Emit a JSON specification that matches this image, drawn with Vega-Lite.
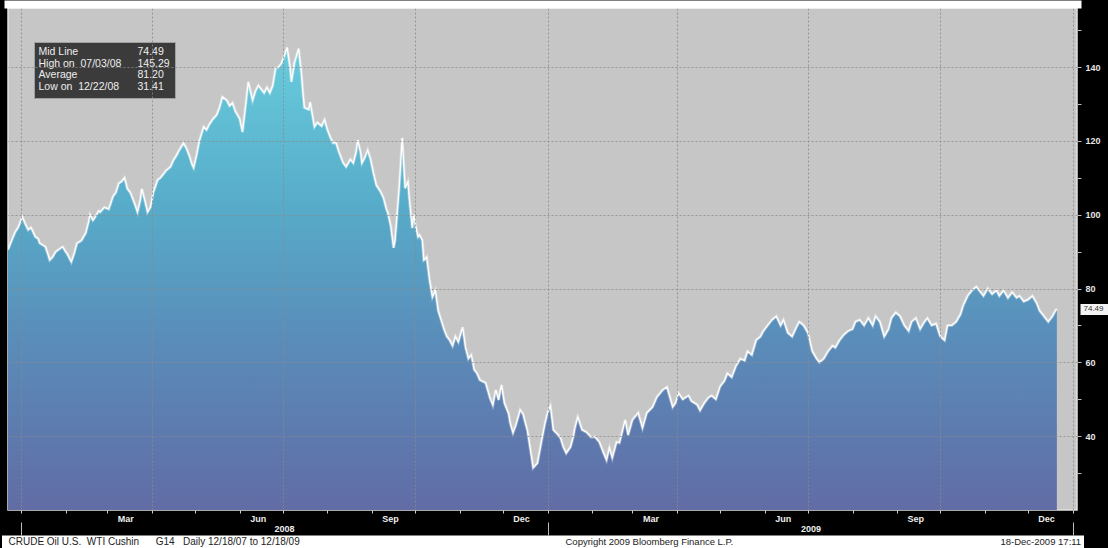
{
  "$schema": "https://vega.github.io/schema/vega-lite/v6.json",
  "width": 1069,
  "height": 502,
  "padding": {"left": 8, "top": 8, "right": 31, "bottom": 38},
  "autosize": {"type": "none"},
  "background": "#000000",
  "view": {"fill": "#c6c6c6", "stroke": "#e2e2e2", "strokeWidth": 1.5},
  "config": {
    "font": "Liberation Sans",
    "axis": {"labelFont": "Liberation Sans", "titleFont": "Liberation Sans"}
  },
  "datasets": {
    "px": [
      {"d": "2007-12-23", "p": 90.5}, {"d": "2007-12-25", "p": 92.5}, {"d": "2007-12-28", "p": 95.3}, {"d": "2007-12-30", "p": 96.5},
      {"d": "2008-01-02", "p": 99.4}, {"d": "2008-01-04", "p": 97.5}, {"d": "2008-01-06", "p": 95.9}, {"d": "2008-01-08", "p": 96.5},
      {"d": "2008-01-11", "p": 94}, {"d": "2008-01-13", "p": 93.5}, {"d": "2008-01-14", "p": 92.3}, {"d": "2008-01-18", "p": 91.3},
      {"d": "2008-01-20", "p": 89}, {"d": "2008-01-21", "p": 87.7}, {"d": "2008-01-23", "p": 88.5}, {"d": "2008-01-25", "p": 89.9},
      {"d": "2008-01-27", "p": 90.5}, {"d": "2008-01-30", "p": 91.3}, {"d": "2008-02-01", "p": 90}, {"d": "2008-02-02", "p": 89.5},
      {"d": "2008-02-05", "p": 87.2}, {"d": "2008-02-07", "p": 89.5}, {"d": "2008-02-09", "p": 92.3}, {"d": "2008-02-12", "p": 93},
      {"d": "2008-02-15", "p": 95}, {"d": "2008-02-17", "p": 98}, {"d": "2008-02-18", "p": 100}, {"d": "2008-02-20", "p": 98.5},
      {"d": "2008-02-21", "p": 99}, {"d": "2008-02-24", "p": 101}, {"d": "2008-02-25", "p": 100.7}, {"d": "2008-02-28", "p": 102},
      {"d": "2008-03-02", "p": 101.5}, {"d": "2008-03-03", "p": 102.6}, {"d": "2008-03-05", "p": 105}, {"d": "2008-03-07", "p": 106},
      {"d": "2008-03-09", "p": 108.5}, {"d": "2008-03-11", "p": 109}, {"d": "2008-03-13", "p": 110}, {"d": "2008-03-15", "p": 107},
      {"d": "2008-03-17", "p": 106}, {"d": "2008-03-20", "p": 103}, {"d": "2008-03-22", "p": 100.7}, {"d": "2008-03-24", "p": 104},
      {"d": "2008-03-25", "p": 107}, {"d": "2008-03-27", "p": 104}, {"d": "2008-03-29", "p": 100.7}, {"d": "2008-03-31", "p": 102},
      {"d": "2008-04-02", "p": 106}, {"d": "2008-04-05", "p": 109.4}, {"d": "2008-04-07", "p": 110}, {"d": "2008-04-09", "p": 111},
      {"d": "2008-04-11", "p": 112}, {"d": "2008-04-14", "p": 113}, {"d": "2008-04-16", "p": 114.8}, {"d": "2008-04-18", "p": 116},
      {"d": "2008-04-20", "p": 117.5}, {"d": "2008-04-23", "p": 119.4}, {"d": "2008-04-25", "p": 118}, {"d": "2008-04-27", "p": 116},
      {"d": "2008-04-29", "p": 113.5}, {"d": "2008-04-30", "p": 112.7}, {"d": "2008-05-02", "p": 116}, {"d": "2008-05-04", "p": 120},
      {"d": "2008-05-07", "p": 123.8}, {"d": "2008-05-09", "p": 123}, {"d": "2008-05-11", "p": 124.5}, {"d": "2008-05-13", "p": 125.7},
      {"d": "2008-05-16", "p": 127}, {"d": "2008-05-18", "p": 129}, {"d": "2008-05-20", "p": 131.9}, {"d": "2008-05-23", "p": 131},
      {"d": "2008-05-25", "p": 129.5}, {"d": "2008-05-27", "p": 130.3}, {"d": "2008-05-29", "p": 128}, {"d": "2008-06-01", "p": 126},
      {"d": "2008-06-03", "p": 122.4}, {"d": "2008-06-05", "p": 129}, {"d": "2008-06-07", "p": 136}, {"d": "2008-06-10", "p": 131},
      {"d": "2008-06-12", "p": 133.5}, {"d": "2008-06-14", "p": 135}, {"d": "2008-06-16", "p": 134}, {"d": "2008-06-18", "p": 133},
      {"d": "2008-06-20", "p": 134.5}, {"d": "2008-06-22", "p": 133}, {"d": "2008-06-24", "p": 135}, {"d": "2008-06-26", "p": 139.7},
      {"d": "2008-06-28", "p": 140}, {"d": "2008-06-30", "p": 141}, {"d": "2008-07-02", "p": 143}, {"d": "2008-07-04", "p": 145.29},
      {"d": "2008-07-06", "p": 140}, {"d": "2008-07-07", "p": 136}, {"d": "2008-07-09", "p": 141}, {"d": "2008-07-12", "p": 145},
      {"d": "2008-07-14", "p": 138}, {"d": "2008-07-15", "p": 133}, {"d": "2008-07-16", "p": 129}, {"d": "2008-07-19", "p": 128.5},
      {"d": "2008-07-20", "p": 130.5}, {"d": "2008-07-22", "p": 126}, {"d": "2008-07-23", "p": 123.8}, {"d": "2008-07-25", "p": 125},
      {"d": "2008-07-28", "p": 124}, {"d": "2008-07-30", "p": 125.7}, {"d": "2008-08-01", "p": 123}, {"d": "2008-08-03", "p": 121},
      {"d": "2008-08-05", "p": 119.4}, {"d": "2008-08-07", "p": 119.5}, {"d": "2008-08-09", "p": 117}, {"d": "2008-08-12", "p": 114},
      {"d": "2008-08-14", "p": 113}, {"d": "2008-08-17", "p": 115}, {"d": "2008-08-19", "p": 114}, {"d": "2008-08-21", "p": 117},
      {"d": "2008-08-22", "p": 120.2}, {"d": "2008-08-24", "p": 117}, {"d": "2008-08-25", "p": 114}, {"d": "2008-08-27", "p": 115.5},
      {"d": "2008-08-29", "p": 117.5}, {"d": "2008-08-31", "p": 115}, {"d": "2008-09-02", "p": 111.3}, {"d": "2008-09-04", "p": 108},
      {"d": "2008-09-07", "p": 106.2}, {"d": "2008-09-09", "p": 104.5}, {"d": "2008-09-11", "p": 101.5}, {"d": "2008-09-12", "p": 100.5},
      {"d": "2008-09-14", "p": 97}, {"d": "2008-09-16", "p": 91}, {"d": "2008-09-17", "p": 93}, {"d": "2008-09-18", "p": 97.8},
      {"d": "2008-09-20", "p": 108}, {"d": "2008-09-22", "p": 120.8}, {"d": "2008-09-24", "p": 107.2}, {"d": "2008-09-26", "p": 108.9},
      {"d": "2008-09-27", "p": 104}, {"d": "2008-09-29", "p": 96.4}, {"d": "2008-09-30", "p": 100}, {"d": "2008-10-01", "p": 97.5},
      {"d": "2008-10-03", "p": 94}, {"d": "2008-10-04", "p": 94.5}, {"d": "2008-10-06", "p": 93}, {"d": "2008-10-07", "p": 87.7},
      {"d": "2008-10-08", "p": 88}, {"d": "2008-10-09", "p": 88.5}, {"d": "2008-10-11", "p": 82.3}, {"d": "2008-10-13", "p": 77.7},
      {"d": "2008-10-15", "p": 79.5}, {"d": "2008-10-17", "p": 74}, {"d": "2008-10-19", "p": 71.5}, {"d": "2008-10-21", "p": 69},
      {"d": "2008-10-23", "p": 67}, {"d": "2008-10-25", "p": 66}, {"d": "2008-10-27", "p": 64.5}, {"d": "2008-10-29", "p": 67},
      {"d": "2008-10-31", "p": 65.5}, {"d": "2008-11-03", "p": 69.5}, {"d": "2008-11-05", "p": 64}, {"d": "2008-11-07", "p": 61},
      {"d": "2008-11-09", "p": 62}, {"d": "2008-11-11", "p": 58}, {"d": "2008-11-13", "p": 57}, {"d": "2008-11-15", "p": 55.2},
      {"d": "2008-11-19", "p": 54.4}, {"d": "2008-11-22", "p": 50.3}, {"d": "2008-11-24", "p": 48.4}, {"d": "2008-11-26", "p": 52.5},
      {"d": "2008-11-28", "p": 49.8}, {"d": "2008-11-30", "p": 53.9}, {"d": "2008-12-02", "p": 49}, {"d": "2008-12-05", "p": 46},
      {"d": "2008-12-06", "p": 43.6}, {"d": "2008-12-08", "p": 40.9}, {"d": "2008-12-10", "p": 43}, {"d": "2008-12-13", "p": 47.1},
      {"d": "2008-12-15", "p": 46}, {"d": "2008-12-16", "p": 44.4}, {"d": "2008-12-18", "p": 41.5}, {"d": "2008-12-19", "p": 39},
      {"d": "2008-12-21", "p": 34}, {"d": "2008-12-22", "p": 31.41}, {"d": "2008-12-25", "p": 32.7}, {"d": "2008-12-28", "p": 39},
      {"d": "2008-12-30", "p": 43}, {"d": "2009-01-01", "p": 46.3}, {"d": "2009-01-03", "p": 48.2}, {"d": "2009-01-05", "p": 41.7},
      {"d": "2009-01-08", "p": 40.5}, {"d": "2009-01-10", "p": 39.5}, {"d": "2009-01-12", "p": 37}, {"d": "2009-01-14", "p": 35.4},
      {"d": "2009-01-17", "p": 37.1}, {"d": "2009-01-19", "p": 40}, {"d": "2009-01-20", "p": 42.2}, {"d": "2009-01-22", "p": 45.2},
      {"d": "2009-01-25", "p": 41.7}, {"d": "2009-01-28", "p": 41.1}, {"d": "2009-01-31", "p": 39.8}, {"d": "2009-02-03", "p": 39.8},
      {"d": "2009-02-06", "p": 38.4}, {"d": "2009-02-09", "p": 35.4}, {"d": "2009-02-11", "p": 33.5}, {"d": "2009-02-13", "p": 36.8},
      {"d": "2009-02-15", "p": 34.1}, {"d": "2009-02-18", "p": 38.4}, {"d": "2009-02-20", "p": 38.2}, {"d": "2009-02-24", "p": 44.4},
      {"d": "2009-02-26", "p": 40.3}, {"d": "2009-03-01", "p": 44.4}, {"d": "2009-03-05", "p": 46.3}, {"d": "2009-03-08", "p": 42.2},
      {"d": "2009-03-11", "p": 46.3}, {"d": "2009-03-15", "p": 47.9}, {"d": "2009-03-18", "p": 50.6}, {"d": "2009-03-22", "p": 52.5},
      {"d": "2009-03-25", "p": 53.3}, {"d": "2009-03-29", "p": 47.9}, {"d": "2009-03-31", "p": 49}, {"d": "2009-04-02", "p": 51.7},
      {"d": "2009-04-05", "p": 50}, {"d": "2009-04-09", "p": 51}, {"d": "2009-04-11", "p": 49.5}, {"d": "2009-04-15", "p": 48.5},
      {"d": "2009-04-17", "p": 47}, {"d": "2009-04-20", "p": 49}, {"d": "2009-04-23", "p": 50.5}, {"d": "2009-04-25", "p": 51},
      {"d": "2009-04-28", "p": 50}, {"d": "2009-05-01", "p": 53.5}, {"d": "2009-05-04", "p": 55}, {"d": "2009-05-06", "p": 57},
      {"d": "2009-05-09", "p": 56}, {"d": "2009-05-12", "p": 59}, {"d": "2009-05-15", "p": 61}, {"d": "2009-05-18", "p": 60.5},
      {"d": "2009-05-20", "p": 63}, {"d": "2009-05-23", "p": 62}, {"d": "2009-05-26", "p": 66}, {"d": "2009-05-29", "p": 67},
      {"d": "2009-05-31", "p": 68.5}, {"d": "2009-06-03", "p": 70}, {"d": "2009-06-06", "p": 71.5}, {"d": "2009-06-09", "p": 72.5},
      {"d": "2009-06-12", "p": 70}, {"d": "2009-06-14", "p": 71.5}, {"d": "2009-06-17", "p": 68}, {"d": "2009-06-20", "p": 67},
      {"d": "2009-06-23", "p": 69.5}, {"d": "2009-06-25", "p": 71}, {"d": "2009-06-28", "p": 70}, {"d": "2009-07-01", "p": 68},
      {"d": "2009-07-04", "p": 63}, {"d": "2009-07-07", "p": 61}, {"d": "2009-07-09", "p": 60}, {"d": "2009-07-12", "p": 61},
      {"d": "2009-07-15", "p": 63}, {"d": "2009-07-18", "p": 64.5}, {"d": "2009-07-20", "p": 64}, {"d": "2009-07-23", "p": 66},
      {"d": "2009-07-26", "p": 67.5}, {"d": "2009-07-29", "p": 68.5}, {"d": "2009-08-01", "p": 69}, {"d": "2009-08-03", "p": 71},
      {"d": "2009-08-06", "p": 71.5}, {"d": "2009-08-09", "p": 70}, {"d": "2009-08-12", "p": 72}, {"d": "2009-08-15", "p": 70},
      {"d": "2009-08-17", "p": 72.5}, {"d": "2009-08-20", "p": 71}, {"d": "2009-08-23", "p": 67}, {"d": "2009-08-26", "p": 69},
      {"d": "2009-08-28", "p": 72}, {"d": "2009-08-31", "p": 73.5}, {"d": "2009-09-03", "p": 72.5}, {"d": "2009-09-06", "p": 70},
      {"d": "2009-09-09", "p": 68.5}, {"d": "2009-09-11", "p": 71}, {"d": "2009-09-14", "p": 72}, {"d": "2009-09-17", "p": 69},
      {"d": "2009-09-20", "p": 71}, {"d": "2009-09-22", "p": 72}, {"d": "2009-09-25", "p": 70}, {"d": "2009-09-28", "p": 70.5},
      {"d": "2009-10-01", "p": 67}, {"d": "2009-10-04", "p": 66}, {"d": "2009-10-06", "p": 70}, {"d": "2009-10-09", "p": 70},
      {"d": "2009-10-12", "p": 71}, {"d": "2009-10-15", "p": 73}, {"d": "2009-10-17", "p": 75.5}, {"d": "2009-10-20", "p": 78},
      {"d": "2009-10-23", "p": 79.5}, {"d": "2009-10-26", "p": 80.5}, {"d": "2009-10-29", "p": 79}, {"d": "2009-10-31", "p": 78},
      {"d": "2009-11-03", "p": 80}, {"d": "2009-11-06", "p": 78.5}, {"d": "2009-11-09", "p": 79.5}, {"d": "2009-11-11", "p": 78},
      {"d": "2009-11-14", "p": 79.5}, {"d": "2009-11-17", "p": 77.5}, {"d": "2009-11-20", "p": 79}, {"d": "2009-11-23", "p": 77.5},
      {"d": "2009-11-25", "p": 78}, {"d": "2009-11-28", "p": 76.5}, {"d": "2009-12-01", "p": 77}, {"d": "2009-12-04", "p": 78},
      {"d": "2009-12-07", "p": 76}, {"d": "2009-12-09", "p": 74}, {"d": "2009-12-12", "p": 72.5}, {"d": "2009-12-15", "p": 71},
      {"d": "2009-12-18", "p": 72.5}, {"d": "2009-12-20", "p": 74}, {"d": "2009-12-21", "p": 74.49}
    ],
    "stats": [
      {"s": "Mid Line"}, {"s": "\u200774.49"},
      {"s": "High on\u00a0 07/03/08"}, {"s": "145.29"},
      {"s": "Average"}, {"s": "\u200781.20"},
      {"s": "Low on\u00a0 12/22/08"}, {"s": "\u200731.41"}
    ]
  },
  "resolve": {"axis": {"x": "independent", "y": "independent"}},
  "layer": [
    {
      "data": {"name": "px"},
      "mark": {
        "type": "area", "clip": true,
        "color": {
          "gradient": "linear", "x1": 0, "y1": 0, "x2": 0, "y2": 1,
          "stops": [
            {"offset": 0, "color": "#68ccdc"},
            {"offset": 0.3, "color": "#57abc9"},
            {"offset": 0.55, "color": "#5a8cb9"},
            {"offset": 0.8, "color": "#5f72a9"},
            {"offset": 1, "color": "#6a609e"}
          ]
        }
      },
      "encoding": {
        "x": {
          "field": "d", "type": "temporal",
          "scale": {"domain": ["2007-12-23", "2010-01-04"], "nice": false},
          "axis": {
            "zindex": 1,
            "orient": "bottom", "offset": 31.5, "labels": false, "ticks": false,
            "domain": true, "domainColor": "#ffffff", "domainWidth": 13, "domainCap": "square",
            "grid": true, "gridColor": "#8a8a8a", "gridDash": [2, 2], "gridOpacity": 0.8, "gridWidth": 1,
            "tickCount": {"interval": "month", "step": 3},
            "title": "CRUDE Oil U.S.\u00a0 WTI Cushin\u00a0\u00a0\u00a0\u00a0\u00a0 G14\u00a0\u00a0 Daily 12/18/07 to 12/18/09",
            "titleAnchor": "start", "titleAlign": "left", "titleBaseline": "middle",
            "titleX": 0, "titleY": -0.5, "titleFontSize": 10, "titleFontWeight": "normal", "titleColor": "#222222"
          }
        },
        "y": {
          "field": "p", "type": "quantitative",
          "scale": {"domain": [20, 156], "nice": false, "zero": false},
          "axis": null
        }
      }
    },
    {
      "data": {"name": "px"},
      "mark": {"type": "line", "color": "#ffffff", "strokeWidth": 3, "opacity": 0.35, "clip": true},
      "encoding": {
        "x": {
          "field": "d", "type": "temporal",
          "axis": {
            "zindex": 1,
            "orient": "bottom", "offset": 0, "domain": false, "grid": false,
            "ticks": true, "tickSize": 3, "tickColor": "#cfcfcf",
            "tickCount": {"interval": "month", "step": 1},
            "labelExpr": "month(datum.value) % 3 == 2 ? timeFormat(datum.value, '%b') : ''",
            "labelOffset": 18, "labelPadding": 1, "labelColor": "#eeeeee", "labelFontSize": 9,
            "labelFontWeight": "bold", "labelBaseline": "top", "labelFlush": false, "labelOverlap": false,
            "title": "Copyright 2009 Bloomberg Finance L.P.",
            "titleAnchor": "start", "titleAlign": "left", "titleBaseline": "middle",
            "titleX": 557, "titleY": 31, "titleFontSize": 9.5, "titleFontWeight": "normal", "titleColor": "#222222"
          }
        },
        "y": {
          "field": "p", "type": "quantitative",
          "axis": {
            "zindex": 1,
            "orient": "right", "domain": false,
            "values": [30, 40, 50, 60, 70, 80, 90, 100, 110, 120, 130, 140, 150],
            "labelExpr": "datum.value % 20 == 0 ? datum.label : ''",
            "grid": true, "gridColor": "#8a8a8a", "gridDash": [2, 2],
            "gridOpacity": {"condition": {"test": "datum.value % 20 == 0", "value": 0.8}, "value": 0},
            "ticks": true, "tickSize": 4, "tickColor": "#bdbdbd",
            "labelPadding": 4, "labelColor": "#e6e6e6", "labelFontSize": 9, "labelFontWeight": "bold",
            "title": null
          }
        }
      }
    },
    {
      "data": {"name": "px"},
      "mark": {"type": "line", "color": "#ffffff", "strokeWidth": 1.3, "clip": true},
      "encoding": {
        "x": {
          "field": "d", "type": "temporal",
          "axis": {
            "zindex": 1,
            "orient": "bottom", "offset": 12, "domain": false, "grid": false,
            "ticks": true, "tickSize": 13, "tickColor": "#bdbdbd", "tickWidth": 1,
            "tickCount": {"interval": "year", "step": 1},
            "labelExpr": "year(datum.value) < 2010 ? timeFormat(datum.value, '%Y') : ''",
            "labelOffset": 263, "labelPadding": -11, "labelColor": "#eeeeee", "labelFontSize": 9,
            "labelFontWeight": "bold", "labelBaseline": "top", "labelFlush": false, "labelOverlap": false,
            "title": "18-Dec-2009 17:11",
            "titleAnchor": "start", "titleAlign": "left", "titleBaseline": "middle",
            "titleX": 992, "titleY": 19, "titleFontSize": 9.5, "titleFontWeight": "normal", "titleColor": "#222222"
          }
        },
        "y": {
          "field": "p", "type": "quantitative",
          "axis": {
            "zindex": 1,
            "orient": "right", "offset": 3, "domain": false, "grid": false,
            "values": [74.49], "format": ".2f",
            "ticks": true, "tickSize": 28, "tickWidth": 11, "tickColor": "#f4f4f4",
            "labelPadding": -25, "labelColor": "#333333", "labelFontSize": 8,
            "title": null
          }
        }
      }
    },
    {
      "data": {"name": "px"},
      "mark": {"type": "point", "opacity": 0},
      "encoding": {
        "x": {
          "field": "d", "type": "temporal",
          "axis": {
            "zindex": 1,
            "orient": "top", "offset": 4, "labels": false, "grid": false,
            "ticks": true, "values": [{"year": 2007, "month": 12, "date": 20, "hours": 19, "minutes": 12, "utc": true}],
            "tickSize": -506, "tickWidth": 8, "tickColor": "#ffffff",
            "domain": true, "domainColor": "#ffffff", "domainWidth": 8, "domainCap": "square",
            "title": null
          }
        },
        "y": {
          "field": "p", "type": "quantitative",
          "axis": null
        }
      }
    },
    {
      "data": {"name": "stats"},
      "mark": {"type": "point", "opacity": 0},
      "encoding": {
        "color": {
          "field": "s", "type": "nominal",
          "scale": {
            "domain": ["Mid Line", "High on\u00a0 07/03/08", "Average", "Low on\u00a0 12/22/08", "\u200774.49", "145.29", "\u200781.20", "\u200731.41"],
            "range": ["#ffffff", "#ffffff", "#ffffff", "#ffffff", "#ffffff", "#ffffff", "#ffffff", "#ffffff"]
          },
          "legend": {
            "orient": "none", "legendX": 26, "legendY": 34, "columns": 2, "title": null,
            "fillColor": "#3b3b3b", "strokeColor": "#a0a0a0", "padding": 5,
            "columnPadding": 15, "rowPadding": 0.5,
            "symbolSize": 1, "symbolOpacity": 0, "symbolStrokeWidth": 0, "labelOffset": -11,
            "labelColor": "#eeeeee", "labelFontSize": 10.5, "labelFont": "Liberation Sans", "labelLimit": 200
          }
        }
      }
    }
  ]
}
